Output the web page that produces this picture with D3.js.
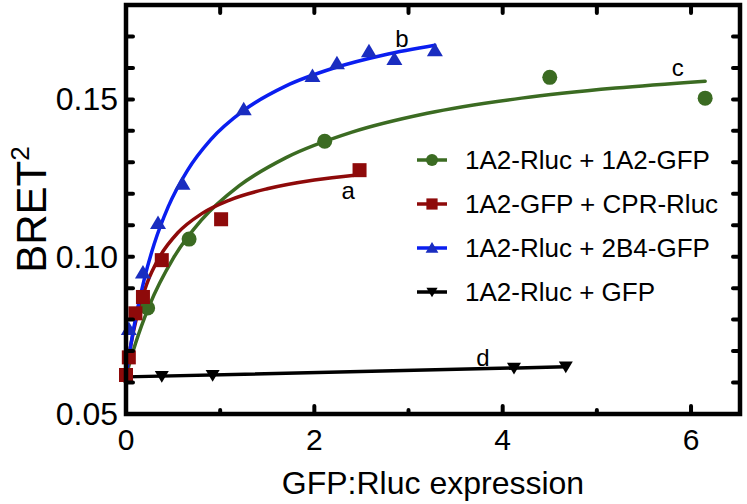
<!DOCTYPE html>
<html><head><meta charset="utf-8">
<script src="https://cdn.jsdelivr.net/npm/d3@7"></script>
<style>
html,body{margin:0;padding:0;background:#fff;}
svg{display:block;font-family:"Liberation Sans",Arial,sans-serif;}
</style></head>
<body><svg id="c" width="747" height="504"></svg>
<script>
// ---- data ----
const seriesNames = ["1A2-Rluc + 1A2-GFP","1A2-GFP + CPR-Rluc","1A2-Rluc + 2B4-GFP","1A2-Rluc + GFP"];
const greenX = [0.23, 0.67, 2.11, 4.50, 6.15];
const greenY = [0.0837, 0.1056, 0.1367, 0.1570, 0.1504];
const redX = [0.00, 0.03, 0.10, 0.18, 0.38, 1.01, 2.48];
const redY = [0.0624, 0.0680, 0.0820, 0.0872, 0.0989, 0.1119, 0.1275];
const blueX = [0.03, 0.18, 0.34, 0.60, 1.25, 1.98, 2.24, 2.58, 2.85, 3.28];
const blueY = [0.0770, 0.0950, 0.1107, 0.1232, 0.1469, 0.1574, 0.1615, 0.1653, 0.1628, 0.1656];
const blackX = [0.00, 0.38, 0.92, 4.12, 4.67];
const blackY = [0.0608, 0.0620, 0.0623, 0.0646, 0.0650];
// fitted curves as drawn in the picture
const greenFitX = [0, 0.1, 0.25, 0.5, 0.8, 1.2, 1.7, 2.4, 3.2, 4.2, 5.2, 6.15];
const greenFitY = [0.062, 0.0723, 0.0846, 0.0994, 0.1116, 0.1225, 0.1315, 0.1396, 0.1456, 0.1504, 0.1536, 0.1558];
const redFitX = [0, 0.05, 0.12, 0.22, 0.35, 0.55, 0.8, 1.1, 1.5, 2.0, 2.45];
const redFitY = [0.062, 0.0717, 0.0816, 0.0913, 0.0996, 0.1076, 0.1136, 0.1180, 0.1216, 0.1244, 0.1260];
const blueFitX = [0, 0.05, 0.12, 0.2, 0.3, 0.45, 0.65, 0.9, 1.25, 1.7, 2.2, 2.75, 3.28];
const blueFitY = [0.062, 0.0718, 0.0831, 0.0936, 0.1041, 0.1160, 0.1273, 0.1372, 0.1465, 0.1543, 0.1599, 0.1642, 0.1672];
const blackFitX = [0, 4.67];
const blackFitY = [0.0618, 0.0650];
const xTickValues = [0, 1, 2, 3, 4, 5, 6];
const xTickLabels = ["0", "", "2", "", "4", "", "6"];
const yTickValues = [0.05,0.06,0.07,0.08,0.09,0.10,0.11,0.12,0.13,0.14,0.15,0.16,0.17,0.18];
const yTickLabels = ["0.05","","","","","0.10","","","","","0.15","","",""];
const curveLabels = ["a","b","c","d"];
const curveLabelX = [2.36, 2.93, 5.86, 3.79];
const curveLabelY = [0.1183, 0.1667, 0.1574, 0.0653];

// ---- layout ----
const L = 126, R = 740, T = 5, B = 414;
const xs = d3.scaleLinear().domain([0, 6.52]).range([L, R]);
const ys = d3.scaleLinear().domain([0.05, 0.18]).range([B, T]);
const svg = d3.select("#c");

const colors = {green:"#3b6b22", red:"#8e0a0a", blue:"#0a1ef0", black:"#000000"};
const mcolors = {green:"#3b6b22", red:"#8e0a0a", blue:"#1a2dc0", black:"#000000"};

const lineGen = d3.line().x(d => xs(d[0])).y(d => ys(d[1])).curve(d3.curveMonotoneX);
const zip = (a, b) => a.map((v, i) => [v, b[i]]);

const series = [
  {key:"black", fx:blackFitX, fy:blackFitY, px:blackX, py:blackY, sym:"down"},
  {key:"green", fx:greenFitX, fy:greenFitY, px:greenX, py:greenY, sym:"circle"},
  {key:"red", fx:redFitX, fy:redFitY, px:redX, py:redY, sym:"square"},
  {key:"blue", fx:blueFitX, fy:blueFitY, px:blueX, py:blueY, sym:"up"}
];

function drawMarker(g, sym, cx, cy, col, s) {
  if (sym === "circle") {
    g.append("circle").attr("cx", cx).attr("cy", cy).attr("r", 7.5*s).style("fill", col);
  } else if (sym === "square") {
    const h = 7*s;
    g.append("rect").attr("x", cx-h).attr("y", cy-h).attr("width", 2*h).attr("height", 2*h).style("fill", col);
  } else if (sym === "up") {
    const w = 8*s, hh = 7.5*s;
    g.append("path").attr("d", `M${cx},${cy-hh}L${cx+w},${cy+hh*0.8}L${cx-w},${cy+hh*0.8}Z`).style("fill", col);
  } else {
    const w = 7*s, hh = 6.5*s;
    g.append("path").attr("d", `M${cx},${cy+hh}L${cx+w},${cy-hh*0.8}L${cx-w},${cy-hh*0.8}Z`).style("fill", col);
  }
}

const plot = svg.append("g");
series.forEach(sr => {
  plot.append("path").datum(zip(sr.fx, sr.fy)).attr("d", lineGen)
    .style("fill", "none").style("stroke", colors[sr.key]).style("stroke-width", "3.5px").style("stroke-linecap", "round");
});
series.forEach(sr => {
  zip(sr.px, sr.py).forEach(p => drawMarker(plot, sr.sym, xs(p[0]), ys(p[1]), mcolors[sr.key], 1));
});

// curve labels
curveLabels.forEach((t, i) => {
  svg.append("text").attr("x", xs(curveLabelX[i])).attr("y", ys(curveLabelY[i]))
    .attr("text-anchor", "middle").style("font-size", "24px").style("fill", "#000").text(t);
});

// ---- axes: ticks drawn from the scales ----
const frame = svg.append("g");
const tickStyle = sel => sel.style("stroke", "#000").style("stroke-width", "4px").style("stroke-linecap", "round");
// bottom & top ticks (inward)
xTickValues.forEach((v, i) => {
  const len = xTickLabels[i] === "" ? 4 : 8;
  if (v > 0) {
    tickStyle(frame.append("line").attr("x1", xs(v)).attr("x2", xs(v)).attr("y1", B).attr("y2", B - len));
    tickStyle(frame.append("line").attr("x1", xs(v)).attr("x2", xs(v)).attr("y1", T).attr("y2", T + 8));
  }
  if (xTickLabels[i] !== "") {
    frame.append("text").attr("x", xs(v)).attr("y", B + 36).attr("text-anchor", "middle")
      .style("font-size", "30px").style("fill", "#000").text(xTickLabels[i]);
  }
});
// left & right ticks (inward)
yTickValues.forEach((v, i) => {
  tickStyle(frame.append("line").attr("x1", L).attr("x2", L + 7).attr("y1", ys(v)).attr("y2", ys(v)));
  tickStyle(frame.append("line").attr("x1", R).attr("x2", R - 7).attr("y1", ys(v)).attr("y2", ys(v)));
  if (yTickLabels[i] !== "") {
    frame.append("text").attr("x", L - 8).attr("y", ys(v) + 11).attr("text-anchor", "end")
      .style("font-size", "32px").style("fill", "#000").text(yTickLabels[i]);
  }
});
// frame border
frame.append("path").attr("d", `M${L},${T}H${R}V${B}H${L}Z`)
  .style("fill", "none").style("stroke", "#000").style("stroke-width", "4.5px").style("stroke-linejoin", "miter");

// axis titles
svg.append("text").attr("x", (L + R) / 2).attr("y", 494).attr("text-anchor", "middle")
  .style("font-size", "32px").style("fill", "#000").text("GFP:Rluc expression");
const yt = svg.append("text").attr("transform", `translate(46,${(T + B) / 2}) rotate(-90)`)
  .attr("text-anchor", "middle").style("font-size", "42px").style("fill", "#000");
yt.append("tspan").text("BRET");
yt.append("tspan").style("font-size", "26px").attr("dy", -17).text("2");

// ---- legend ----
const legKeys = ["green","red","blue","black"];
const legSyms = ["circle","square","up","down"];
const leg = svg.append("g");
legKeys.forEach((k, i) => {
  const cy = 160 + i * 44;
  leg.append("line").attr("x1", 417).attr("x2", 447).attr("y1", cy).attr("y2", cy)
    .style("stroke", colors[k]).style("stroke-width", "3.5px");
  drawMarker(leg, legSyms[i], 432, cy, mcolors[k], 0.8);
  leg.append("text").attr("x", 465).attr("y", cy + 9).style("font-size", "26px").style("fill", "#000").text(seriesNames[i]);
});
</script></body></html>
